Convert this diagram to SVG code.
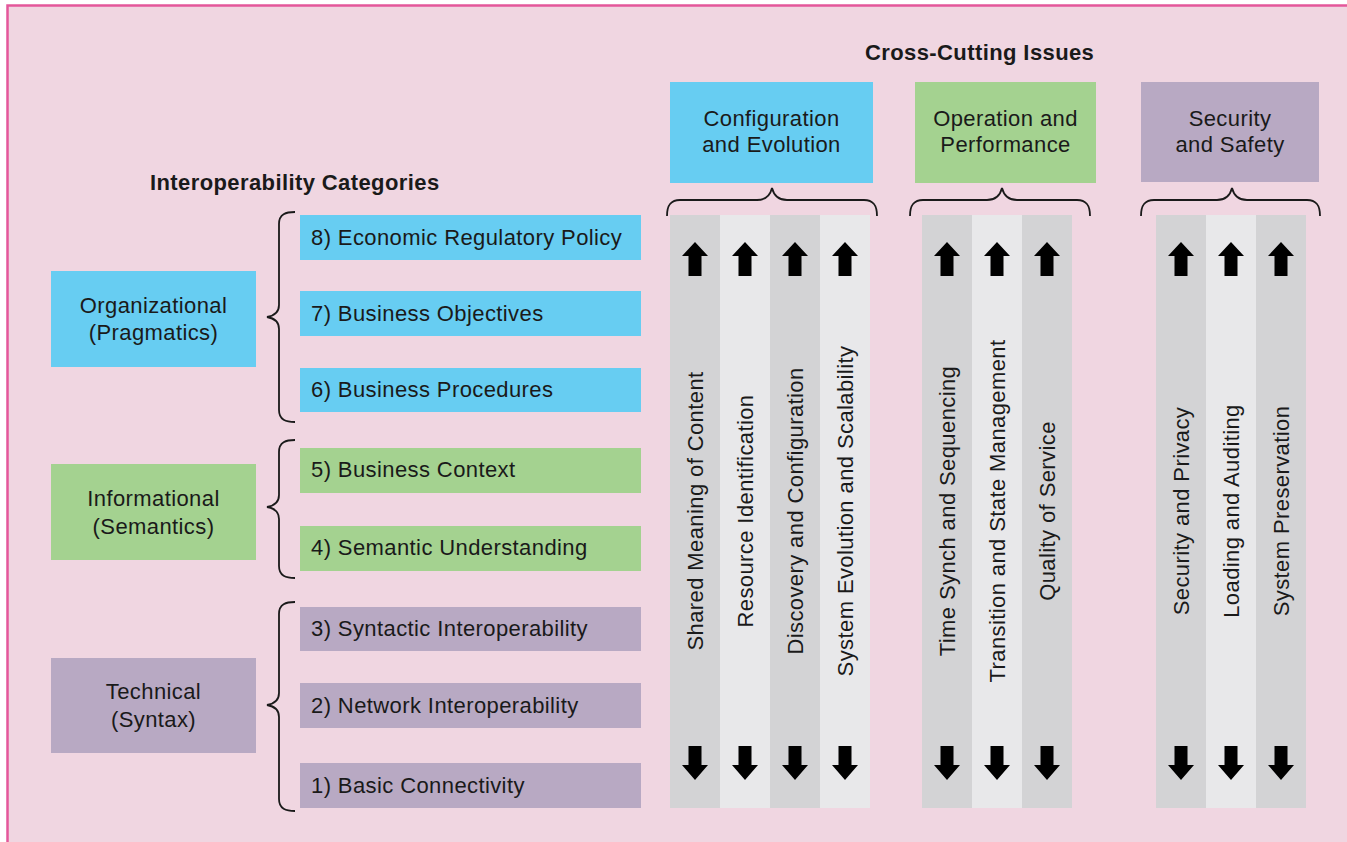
<svg xmlns="http://www.w3.org/2000/svg" xmlns:xlink="http://www.w3.org/1999/xlink" width="1347" height="842" viewBox="0 0 1347 842">
<style>
text{font-family:"Liberation Sans",Arial,sans-serif;font-size:22px;fill:#1a1a1a;letter-spacing:0.4px}
.b{font-weight:bold}
.m{text-anchor:middle}
.blue{fill:#67cdf2}
.green{fill:#a4d290}
.purple{fill:#b8a9c3}
.dk{fill:#d3d3d5}
.lt{fill:#e8e8ea}
.brace{fill:none;stroke:#1a1a1a;stroke-width:1.8}
.arr{fill:#000}
</style>
<defs>
<path id="up" d="M0,0 L13,14 L6.5,14 L6.5,34 L-6.5,34 L-6.5,14 L-13,14 Z"/>
<path id="dn" d="M0,0 L-13,-15 L-6.5,-15 L-6.5,-34 L6.5,-34 L6.5,-15 L13,-15 Z"/>
</defs>
<rect x="0" y="0" width="1347" height="842" fill="#ffffff"/>
<rect x="7.5" y="5.5" width="1400" height="900" fill="#f0d6e1" stroke="#e4579a" stroke-width="2.5"/>

<text class="b" x="150" y="190">Interoperability Categories</text>
<text class="b" x="865" y="60">Cross-Cutting Issues</text>

<g id="organizational">
<rect class="blue" x="51" y="271" width="205" height="96"/>
<text class="m" x="153.5" y="313">Organizational</text>
<text class="m" x="153.5" y="340">(Pragmatics)</text>
</g>
<g id="informational">
<rect class="green" x="51" y="464" width="205" height="96"/>
<text class="m" x="153.5" y="506">Informational</text>
<text class="m" x="153.5" y="534">(Semantics)</text>
</g>
<g id="technical">
<rect class="purple" x="51" y="658" width="205" height="95"/>
<text class="m" x="153.5" y="699">Technical</text>
<text class="m" x="153.5" y="727">(Syntax)</text>
</g>

<g id="item8"><rect class="blue" x="300" y="215" width="341" height="45"/><text x="311" y="245">8) Economic Regulatory Policy</text></g>
<g id="item7"><rect class="blue" x="300" y="291" width="341" height="45"/><text x="311" y="321">7) Business Objectives</text></g>
<g id="item6"><rect class="blue" x="300" y="368" width="341" height="44"/><text x="311" y="397">6) Business Procedures</text></g>
<g id="item5"><rect class="green" x="300" y="448" width="341" height="45"/><text x="311" y="477">5) Business Context</text></g>
<g id="item4"><rect class="green" x="300" y="526" width="341" height="45"/><text x="311" y="555">4) Semantic Understanding</text></g>
<g id="item3"><rect class="purple" x="300" y="607" width="341" height="44"/><text x="311" y="636">3) Syntactic Interoperability</text></g>
<g id="item2"><rect class="purple" x="300" y="683" width="341" height="45"/><text x="311" y="713">2) Network Interoperability</text></g>
<g id="item1"><rect class="purple" x="300" y="763" width="341" height="45"/><text x="311" y="793">1) Basic Connectivity</text></g>

<g id="config-evolution">
<rect class="blue" x="670" y="82" width="203" height="101"/>
<text class="m" x="771.5" y="126">Configuration</text>
<text class="m" x="771.5" y="152">and Evolution</text>
</g>
<g id="operation-performance">
<rect class="green" x="915" y="82" width="181" height="101"/>
<text class="m" x="1005.5" y="126">Operation and</text>
<text class="m" x="1005.5" y="152">Performance</text>
</g>
<g id="security-safety">
<rect class="purple" x="1141" y="82" width="178" height="100"/>
<text class="m" x="1230" y="126">Security</text>
<text class="m" x="1230" y="152">and Safety</text>
</g>

<g id="col-shared-meaning">
<rect class="dk" x="670" y="215" width="50" height="593"/>
<use href="#up" x="695" y="242" class="arr"/><use href="#dn" x="695" y="780" class="arr"/>
<text class="m" transform="translate(703,511) rotate(-90)">Shared Meaning of Content</text>
</g>
<g id="col-resource-id">
<rect class="lt" x="720" y="215" width="50" height="593"/>
<use href="#up" x="745" y="242" class="arr"/><use href="#dn" x="745" y="780" class="arr"/>
<text class="m" transform="translate(753,511) rotate(-90)">Resource Identification</text>
</g>
<g id="col-discovery">
<rect class="dk" x="770" y="215" width="50" height="593"/>
<use href="#up" x="795" y="242" class="arr"/><use href="#dn" x="795" y="780" class="arr"/>
<text class="m" transform="translate(803,511) rotate(-90)">Discovery and Configuration</text>
</g>
<g id="col-system-evolution">
<rect class="lt" x="820" y="215" width="50" height="593"/>
<use href="#up" x="845" y="242" class="arr"/><use href="#dn" x="845" y="780" class="arr"/>
<text class="m" transform="translate(853,511) rotate(-90)">System Evolution and Scalability</text>
</g>

<g id="col-time-synch">
<rect class="dk" x="922" y="215" width="50" height="593"/>
<use href="#up" x="947" y="242" class="arr"/><use href="#dn" x="947" y="780" class="arr"/>
<text class="m" transform="translate(955,511) rotate(-90)">Time Synch and Sequencing</text>
</g>
<g id="col-transition">
<rect class="lt" x="972" y="215" width="50" height="593"/>
<use href="#up" x="997" y="242" class="arr"/><use href="#dn" x="997" y="780" class="arr"/>
<text class="m" transform="translate(1005,511) rotate(-90)">Transition and State Management</text>
</g>
<g id="col-qos">
<rect class="dk" x="1022" y="215" width="50" height="593"/>
<use href="#up" x="1047" y="242" class="arr"/><use href="#dn" x="1047" y="780" class="arr"/>
<text class="m" transform="translate(1055,511) rotate(-90)">Quality of Service</text>
</g>

<g id="col-security-privacy">
<rect class="dk" x="1156" y="215" width="50" height="593"/>
<use href="#up" x="1181" y="242" class="arr"/><use href="#dn" x="1181" y="780" class="arr"/>
<text class="m" transform="translate(1189,511) rotate(-90)">Security and Privacy</text>
</g>
<g id="col-loading-auditing">
<rect class="lt" x="1206" y="215" width="50" height="593"/>
<use href="#up" x="1231" y="242" class="arr"/><use href="#dn" x="1231" y="780" class="arr"/>
<text class="m" transform="translate(1239,511) rotate(-90)">Loading and Auditing</text>
</g>
<g id="col-system-preservation">
<rect class="dk" x="1256" y="215" width="50" height="593"/>
<use href="#up" x="1281" y="242" class="arr"/><use href="#dn" x="1281" y="780" class="arr"/>
<text class="m" transform="translate(1289,511) rotate(-90)">System Preservation</text>
</g>

<g id="connectors">
<path class="brace" d="M295,212 C286,212 279,214 279,224 L279,305 C279,313 273,316 267,317 C273,318 279,321 279,329 L279,410 C279,420 286,422 295,422"/>
<path class="brace" d="M295,440 C286,440 279,442 279,452 L279,495 C279,503 273,506 267,507 C273,508 279,511 279,519 L279,566 C279,576 286,578 295,578"/>
<path class="brace" d="M295,602 C286,602 279,604 279,614 L279,693 C279,701 273,704 267,705 C273,706 279,709 279,717 L279,799 C279,809 286,811 295,811"/>
<path class="brace" d="M667,216 C667,206 670,200 680,200 L757,200 C765,200 770,196 772,188 C774,196 779,200 787,200 L864,200 C874,200 877,206 877,216"/>
<path class="brace" d="M910,216 C910,206 913,200 923,200 L987,200 C995,200 1000,196 1002,188 C1004,196 1009,200 1017,200 L1077,200 C1087,200 1090,206 1090,216"/>
<path class="brace" d="M1141,216 C1141,206 1144,200 1154,200 L1217,200 C1225,200 1230,196 1232,188 C1234,196 1239,200 1247,200 L1307,200 C1317,200 1320,206 1320,216"/>
</g>
</svg>
